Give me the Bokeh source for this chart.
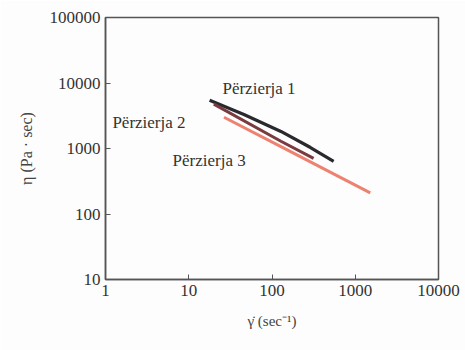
from bokeh.plotting import figure
from bokeh.models import Label, FixedTicker, PrintfTickFormatter
from bokeh.embed import file_html
from bokeh.resources import INLINE

# Data (shear rate vs viscosity)
p1_rate = [17.8, 46, 128, 290, 550]
p1_visc = [5450, 3300, 1820, 1035, 635]
p2_rate = [20, 128, 316]
p2_visc = [4760, 1290, 705]
p3_rate = [26.5, 128, 1515]
p3_visc = [3000, 1070, 210]

x_ticks = [1, 10, 100, 1000, 10000]
y_ticks = [10, 100, 1000, 10000, 100000]
series_names = ["Përzierja 1", "Përzierja 2", "Përzierja 3"]
label_x = [25.4, 1.21, 6.4]
label_y = [8240, 2490, 656]

FONT = "Liberation Serif"

p = figure(width=465, height=350, x_axis_type="log", y_axis_type="log",
           x_range=(1, 10000), y_range=(10, 100000),
           output_backend="svg", toolbar_location=None,
           min_border_left=105, min_border_right=27,
           min_border_top=17, min_border_bottom=71)
p.background_fill_color = "#fdfdfd"
p.border_fill_color = "#fdfdfd"
p.outline_line_color = "#555555"
p.outline_line_width = 1.5
p.grid.visible = False

for ax, ticks in ((p.xaxis[0], x_ticks), (p.yaxis[0], y_ticks)):
    ax.ticker = FixedTicker(ticks=ticks)
    ax.formatter = PrintfTickFormatter(format="%d")
    ax.major_tick_in = 5
    ax.major_tick_out = 0
    ax.minor_tick_line_color = None
    ax.axis_line_color = "#555555"
    ax.axis_line_width = 1.5
    ax.major_tick_line_color = "#555555"
    ax.major_label_text_font = FONT
    ax.major_label_text_font_size = "17px"
    ax.major_label_text_color = "#333333"
    ax.major_label_standoff = 5

p.yaxis.axis_label = "η (Pa · sec)"
p.yaxis.axis_label_text_font = FONT
p.yaxis.axis_label_text_font_style = "normal"
p.yaxis.axis_label_text_font_size = "16px"
p.yaxis.axis_label_text_color = "#444444"
p.yaxis.axis_label_standoff = 12

p.xaxis.axis_label = "γ̇ (sec⁻¹)"
p.xaxis.axis_label_text_font = FONT
p.xaxis.axis_label_text_font_style = "normal"
p.xaxis.axis_label_text_font_size = "15px"
p.xaxis.axis_label_text_color = "#444444"
p.xaxis.axis_label_standoff = 14

p.line(p1_rate, p1_visc, line_color="#2a2a2e", line_width=3.2)
p.line(p2_rate, p2_visc, line_color="#7a3b40", line_width=3.0)
p.line(p3_rate, p3_visc, line_color="#ee8270", line_width=3.0)

for name, lx, ly in zip(series_names, label_x, label_y):
    p.add_layout(Label(x=lx, y=ly, text=name, text_font=FONT, text_font_size="17px",
                       text_color="#333333", text_baseline="middle", text_align="left"))

open("out.html", "w").write(file_html(p, INLINE))
